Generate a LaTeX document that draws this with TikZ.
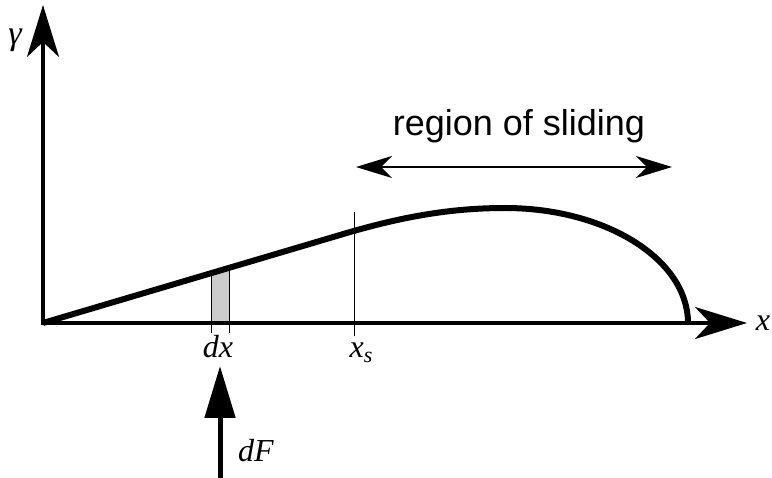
\documentclass[tikz,border=0pt]{standalone}
\usepackage{fontspec}
\setmainfont{Liberation Serif}
\newfontfamily\sansf{Liberation Sans}
\usetikzlibrary{arrows.meta}
\begin{document}
\begin{tikzpicture}[x=1pt,y=-1pt,
  axis/.style={line width=3.5pt,-{Stealth[length=52pt,width=32pt,inset=15pt]}},
  curvestyle/.style={line width=6pt,line join=round},
  thin/.style={line width=0.9pt},
  label/.style={inner sep=0pt,anchor=base,font=\fontsize{32}{36}\selectfont\itshape},
  forcearrow/.style={line width=5pt,-{Triangle[length=52pt,width=30pt]}},
  slidearrow/.style={line width=1.6pt,{Stealth[length=36pt,width=22pt,inset=11pt]}-{Stealth[length=36pt,width=22pt,inset=11pt]}}
]
\path[use as bounding box] (0,0) rectangle (772,478);
\coordinate (O) at (43,323);
\coordinate (ytip) at (43,5);
\coordinate (xtip) at (747,323);
% strip
\fill[gray!40] (211,273) -- (229,267.7) -- (229,323) -- (211,323) -- cycle;
\draw[thin] (211,273) -- (211,333);
\draw[thin] (229,267.7) -- (229,333);
% x_s line
\draw[thin] (354,212) -- (354,336);
% axes
\draw[axis] (O) -- (ytip);
\draw[axis] ([xshift=-1.75pt]O) -- (xtip);
% curve
\draw[curvestyle] (O) -- (340,235) .. controls (400,217) and (450,208) .. (505,208)
  .. controls (606,208) and (688,259.5) .. (688,323);
% labels
\node[label,font=\fontsize{34}{38}\selectfont\itshape] (gam) at (15,45) {γ};
\node[label] (xl) at (763,331) {x};
\node[label] (dx) at (218,358) {dx};
\node[label] (xs) at (361,358) {x\raisebox{-5pt}{\fontsize{22}{24}\selectfont s}};
% force arrow
\coordinate (fbot) at (220,478);
\coordinate (ftop) at (220,366);
\draw[forcearrow] (fbot) -- (ftop);
\node[label] (dF) at (256,462) {dF};
% region of sliding
\node[inner sep=0pt,anchor=base,font=\sansf\fontsize{36}{40}\selectfont] (ros) at (519,136) {region of sliding};
\coordinate (sl) at (356,167);
\coordinate (sr) at (672,167);
\draw[slidearrow] (sl) -- (sr);
\end{tikzpicture}
\end{document}
